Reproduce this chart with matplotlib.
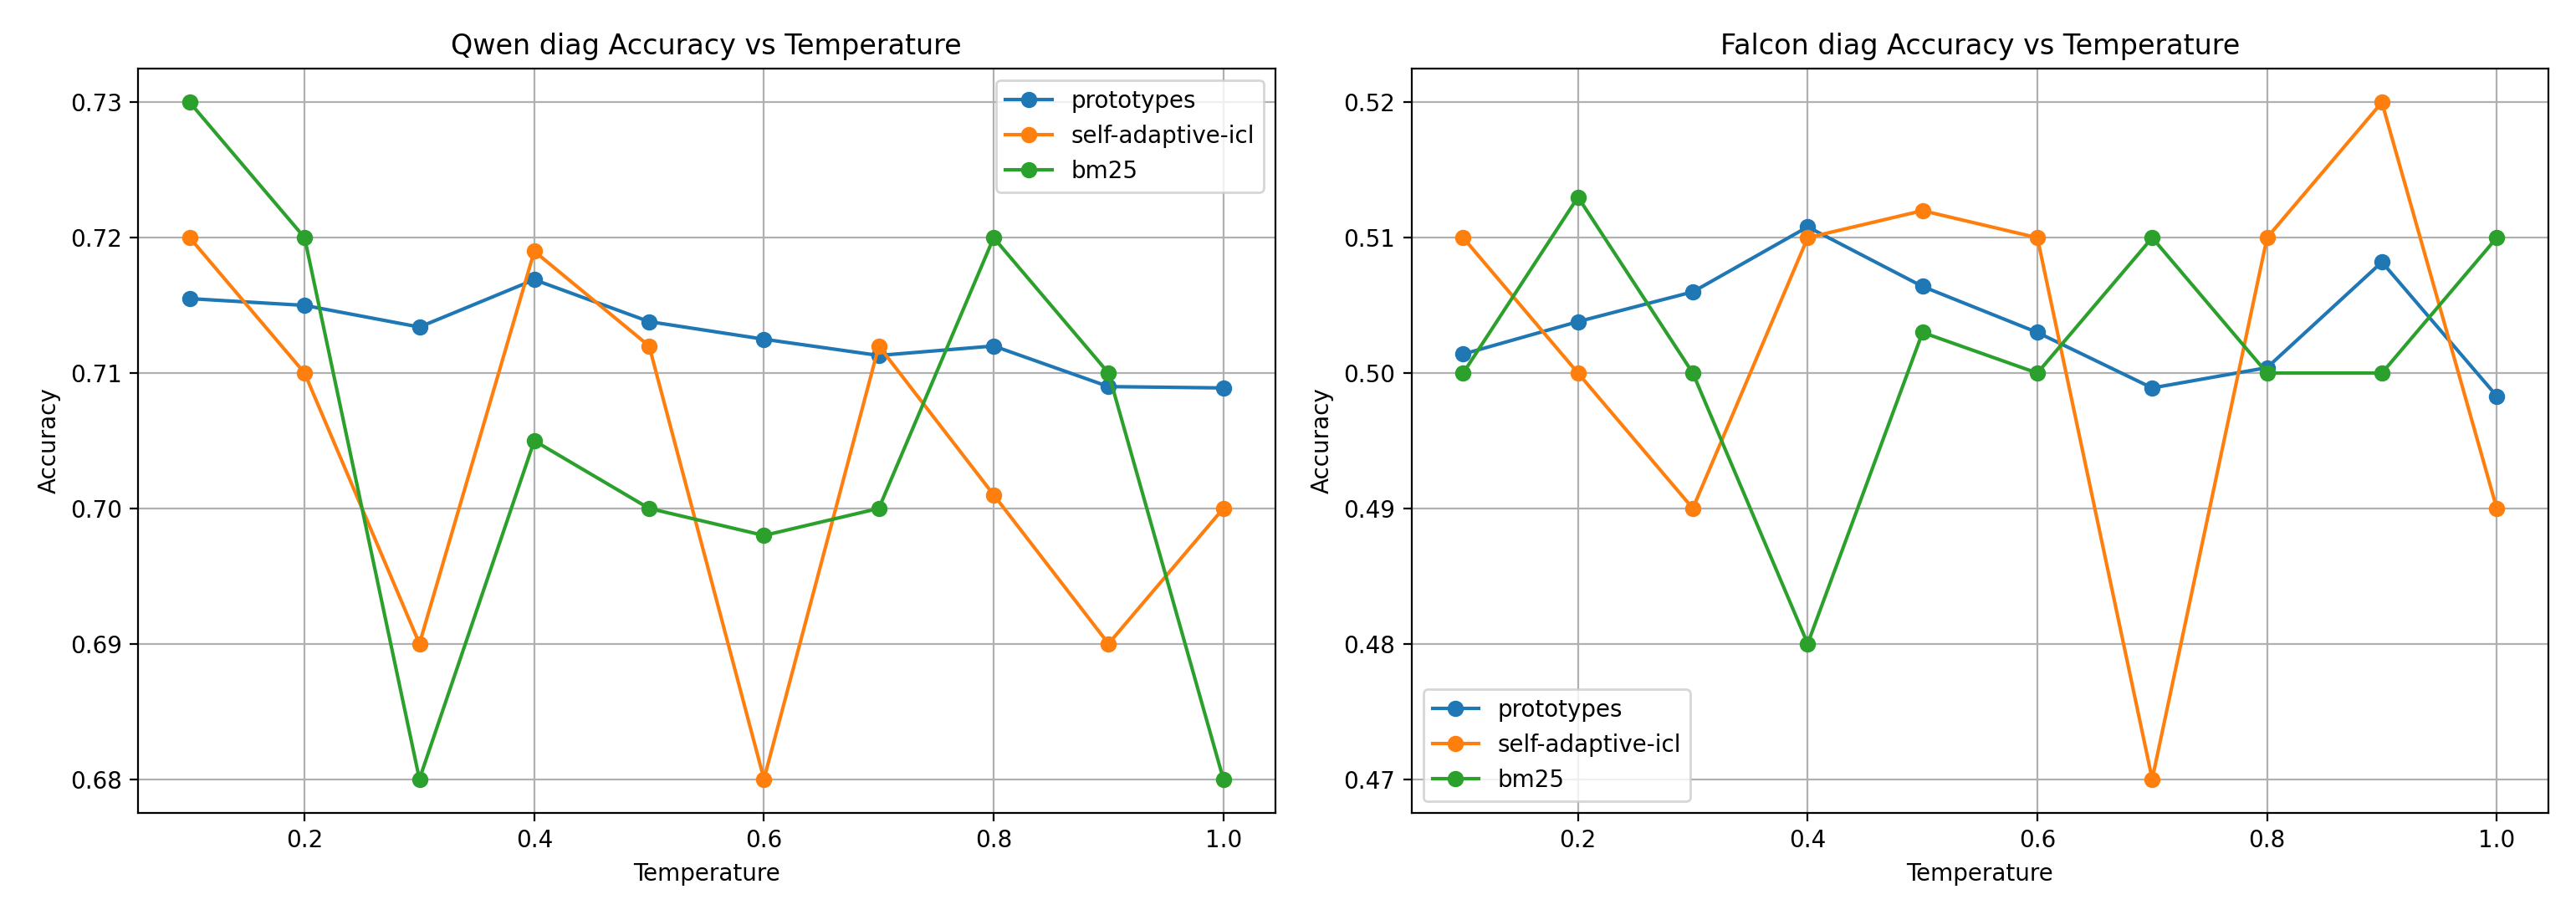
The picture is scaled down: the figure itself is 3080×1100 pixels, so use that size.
import matplotlib.pyplot as plt
import numpy as np

temps = [0.1, 0.2, 0.3, 0.4, 0.5, 0.6, 0.7, 0.8, 0.9, 1.0]

qwen_prototypes = [0.7155, 0.7150, 0.7134, 0.7169, 0.7138, 0.7125, 0.7113, 0.7120, 0.7090, 0.7089]
qwen_self_icl = [0.720, 0.710, 0.690, 0.719, 0.712, 0.680, 0.712, 0.701, 0.690, 0.700]
qwen_bm25 = [0.730, 0.720, 0.680, 0.705, 0.700, 0.698, 0.700, 0.720, 0.710, 0.680]

falcon_prototypes = [0.5014, 0.5038, 0.5060, 0.5108, 0.5064, 0.5030, 0.4989, 0.5004, 0.5082, 0.4983]
falcon_self_icl = [0.510, 0.500, 0.490, 0.510, 0.512, 0.510, 0.470, 0.510, 0.520, 0.490]
falcon_bm25 = [0.500, 0.513, 0.500, 0.480, 0.503, 0.500, 0.510, 0.500, 0.500, 0.510]

fig, axes = plt.subplots(1, 2, figsize=(15.4, 5.5), dpi=200)

panels = [
    (axes[0], "Qwen diag Accuracy vs Temperature", qwen_prototypes, qwen_self_icl, qwen_bm25, "upper right"),
    (axes[1], "Falcon diag Accuracy vs Temperature", falcon_prototypes, falcon_self_icl, falcon_bm25, "lower left"),
]

for ax, title, proto, sicl, bm, loc in panels:
    ax.plot(temps, proto, marker='o', label='prototypes')
    ax.plot(temps, sicl, marker='o', label='self-adaptive-icl')
    ax.plot(temps, bm, marker='o', label='bm25')
    ax.set_title(title)
    ax.set_xlabel('Temperature')
    ax.set_ylabel('Accuracy')
    ax.grid(True)
    ax.legend(loc=loc)

plt.subplots_adjust(left=0.0536, right=0.9893, top=0.9255, bottom=0.1164, wspace=0.12)
plt.savefig('out.png')
